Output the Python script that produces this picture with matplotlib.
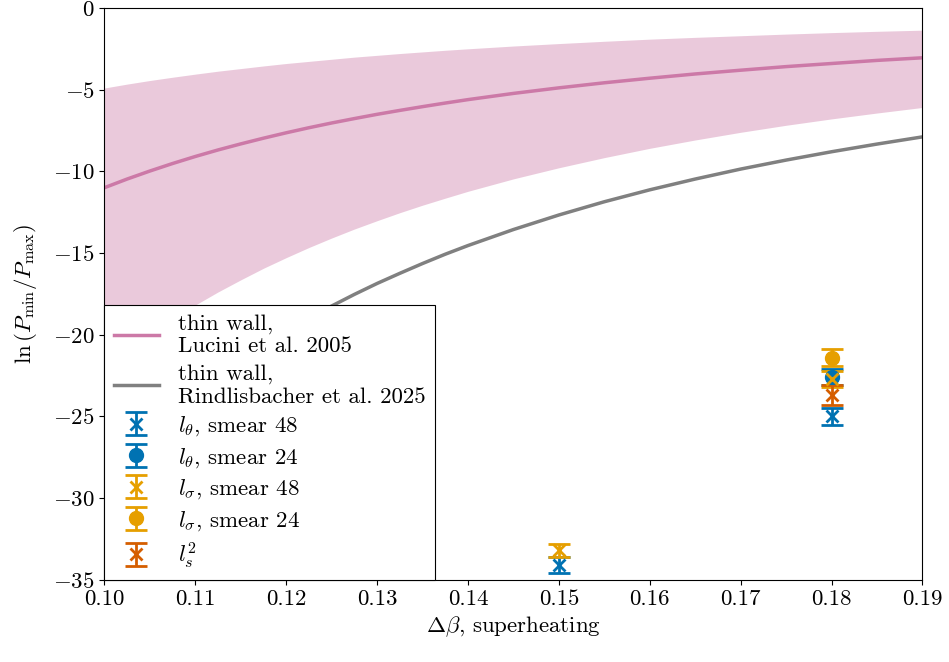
import numpy as np
import matplotlib
matplotlib.use("Agg")
import matplotlib.pyplot as plt

plt.rcParams.update({
    "font.family": "serif",
    "font.serif": ["cmr10"],
    "mathtext.fontset": "cm",
    "axes.formatter.use_mathtext": True,
    "font.size": 16.5,
})

# superheating grid for the thin-wall curves
dbeta = [0.100, 0.1025, 0.105, 0.1075, 0.110, 0.1125, 0.115, 0.1175, 0.120, 0.1225,
         0.125, 0.1275, 0.130, 0.1325, 0.135, 0.1375, 0.140, 0.145,
         0.150, 0.155, 0.160, 0.165, 0.170, 0.175, 0.180, 0.185, 0.190]
lucini = [-11.00, -10.47, -9.98, -9.52, -9.09, -8.69, -8.32, -7.97, -7.64, -7.33,
          -7.04, -6.77, -6.51, -6.27, -6.04, -5.82, -5.61, -5.23,
          -4.89, -4.58, -4.30, -4.04, -3.81, -3.59, -3.40, -3.21, -3.05]
lucini_hi = [-4.90, -4.66, -4.44, -4.24, -4.05, -3.87, -3.71, -3.55, -3.40, -3.27,
             -3.14, -3.01, -2.90, -2.79, -2.69, -2.59, -2.50, -2.33,
             -2.18, -2.04, -1.91, -1.80, -1.70, -1.60, -1.51, -1.43, -1.36]
lucini_lo = [-22.00, -20.94, -19.95, -19.04, -18.18, -17.38, -16.64, -15.93, -15.28, -14.66,
             -14.08, -13.53, -13.02, -12.53, -12.07, -11.64, -11.22, -10.46,
             -9.78, -9.16, -8.59, -8.08, -7.61, -7.18, -6.79, -6.43, -6.09]
rindl = [-28.50, -27.13, -25.85, -24.66, -23.55, -22.52, -21.55, -20.64, -19.79, -18.99,
         -18.24, -17.53, -16.86, -16.24, -15.64, -15.07, -14.54, -13.56,
         -12.67, -11.86, -11.13, -10.47, -9.86, -9.31, -8.80, -8.33, -7.89]

# measured points
x_theta48 = [0.15, 0.18]
y_theta48 = [-34.1, -25.0]
e_theta48 = [0.5, 0.5]
x_theta24 = [0.18]
y_theta24 = [-22.6]
e_theta24 = [0.5]
x_sigma48 = [0.15, 0.18]
y_sigma48 = [-33.2, -22.7]
e_sigma48 = [0.4, 0.5]
x_sigma24 = [0.18]
y_sigma24 = [-21.4]
e_sigma24 = [0.5]
x_ls2 = [0.18]
y_ls2 = [-23.7]
e_ls2 = [0.6]

pink = "#cc79a7"
grey = "#808080"
blue = "#0072b2"
orange = "#e69f00"
red = "#d55e00"

fig, ax = plt.subplots(figsize=(9.49, 6.62), dpi=100)

ax.fill_between(dbeta, lucini_lo, lucini_hi, color=pink, alpha=0.4, lw=0)
ax.plot(dbeta, lucini, color=pink, lw=2.5, label="thin wall,\nLucini et al. 2005")
ax.plot(dbeta, rindl, color=grey, lw=2.5, label="thin wall,\nRindlisbacher et al. 2025")

eb = dict(ls="none", capsize=8, elinewidth=2, capthick=2)
ax.errorbar(x_theta48, y_theta48, yerr=e_theta48, fmt="x", color=blue, ms=9, mew=2,
            label=r"$l_\theta$, smear 48", **eb)
ax.errorbar(x_theta24, y_theta24, yerr=e_theta24, fmt="o", color=blue, ms=10,
            label=r"$l_\theta$, smear 24", **eb)
ax.errorbar(x_sigma48, y_sigma48, yerr=e_sigma48, fmt="x", color=orange, ms=9, mew=2,
            label=r"$l_\sigma$, smear 48", **eb)
ax.errorbar(x_sigma24, y_sigma24, yerr=e_sigma24, fmt="o", color=orange, ms=10,
            label=r"$l_\sigma$, smear 24", **eb)
ax.errorbar(x_ls2, y_ls2, yerr=e_ls2, fmt="x", color=red, ms=9, mew=2,
            label=r"$l_s^2$", **eb)

ax.set_xlim(0.10, 0.19)
ax.set_ylim(-35, 0)
ax.set_xticks(np.arange(0.10, 0.1901, 0.01))
ax.set_xticklabels([f"{t:.2f}" for t in np.arange(0.10, 0.1901, 0.01)])
ax.set_xlabel(r"$\Delta\beta$, superheating")
ax.set_ylabel(r"$\ln\left(P_{\min}/P_{\max}\right)$", labelpad=10)

leg = ax.legend(loc="lower left", borderaxespad=0, fancybox=False, framealpha=1,
                edgecolor="black", handlelength=2, labelspacing=0.34)
leg.get_frame().set_linewidth(0.8)

fig.subplots_adjust(left=0.11, right=0.972, top=0.988, bottom=0.124)
fig.savefig("out.png", dpi=100)
